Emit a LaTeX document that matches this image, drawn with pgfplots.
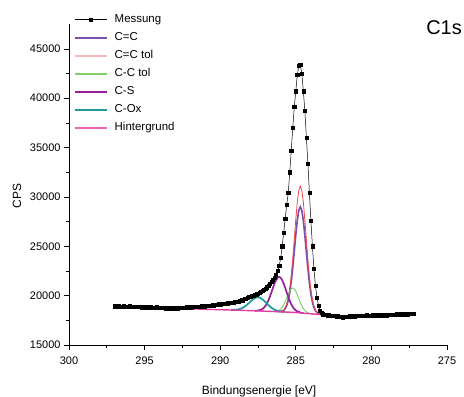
\documentclass[border=0pt]{standalone}
\usepackage{fontspec}
\setmainfont{Liberation Sans}
\usepackage{pgfplots}
\usepackage{pgfplotstable}
\pgfplotsset{compat=1.18}
\definecolor{ccc}{RGB}{125,80,178}
\definecolor{cctol}{RGB}{240,70,70}
\definecolor{cctolg}{RGB}{110,200,80}
\definecolor{ccs}{RGB}{150,30,150}
\definecolor{cox}{RGB}{30,155,155}
\definecolor{bgc}{RGB}{225,60,160}
\pgfplotstableread{
x y
297.0 18930
296.9 18900
296.8 18950
296.7 18920
296.6 18880
296.5 18910
296.4 18940
296.3 18890
296.2 18860
296.1 18900
296.0 18930
295.9 18870
295.8 18890
295.7 18850
295.6 18880
295.5 18900
295.4 18840
295.3 18860
295.2 18830
295.1 18870
295.0 18850
294.9 18810
294.8 18840
294.7 18800
294.6 18830
294.5 18790
294.4 18810
294.3 18780
294.2 18820
294.1 18760
294.0 18790
293.9 18750
293.8 18780
293.7 18740
293.6 18700
293.5 18660
293.4 18720
293.3 18750
293.2 18700
293.1 18740
293.0 18720
292.9 18760
292.8 18730
292.7 18780
292.6 18800
292.5 18760
292.4 18810
292.3 18790
292.2 18830
292.1 18800
292.0 18850
291.9 18830
291.8 18870
291.7 18850
291.6 18890
291.5 18870
291.4 18910
291.3 18880
291.2 18930
291.1 18960
291.0 18920
290.9 18970
290.8 18950
290.7 19000
290.6 18980
290.5 19040
290.4 19010
290.3 19080
290.2 19060
290.1 19120
290.0 19100
289.9 19160
289.8 19140
289.7 19200
289.6 19180
289.5 19230
289.4 19260
289.3 19240
289.2 19300
289.1 19280
289.0 19350
288.9 19420
288.8 19400
288.7 19480
288.6 19560
288.5 19540
288.4 19650
288.3 19700
288.2 19760
288.1 19850
288.0 19900
287.9 19950
287.8 20020
287.7 20080
287.6 20150
287.5 20220
287.4 20300
287.3 20400
287.2 20480
287.1 20580
287.0 20700
286.9 20850
286.8 21000
286.7 21180
286.6 21380
286.5 21600
286.4 21850
286.3 22150
286.2 22500
286.1 23000
286.0 23800
285.9 25000
285.8 26400
285.7 27800
285.6 29200
285.5 30400
285.4 32500
285.3 34700
285.2 37000
285.1 39100
285.0 40700
284.9 42400
284.8 43250
284.7 43380
284.6 42500
284.5 40700
284.4 38700
284.3 36000
284.2 33400
284.1 30400
284.0 27600
283.9 25000
283.8 22700
283.7 21000
283.6 19800
283.5 19000
283.4 18500
283.3 18250
283.2 18120
283.1 18080
283.0 18040
282.9 18010
282.8 18050
282.7 17990
282.6 17960
282.5 18000
282.4 17950
282.3 17900
282.2 17930
282.1 17870
282.0 17840
281.9 17820
281.8 17870
281.7 17850
281.6 17900
281.5 17880
281.4 17930
281.3 17900
281.2 17950
281.1 17920
281.0 17960
280.9 17930
280.8 17980
280.7 17950
280.6 17990
280.5 17940
280.4 17980
280.3 18010
280.2 17960
280.1 18000
280.0 17970
279.9 18020
279.8 17990
279.7 18030
279.6 17980
279.5 18040
279.4 18000
279.3 18050
279.2 18010
279.1 18060
279.0 18020
278.9 18070
278.8 18030
278.7 18080
278.6 18050
278.5 18100
278.4 18060
278.3 18110
278.2 18080
278.1 18120
278.0 18090
277.9 18130
277.8 18100
277.7 18150
277.6 18120
277.5 18160
277.4 18130
277.3 18170
277.2 18160
}\messung
\begin{document}
\begin{tikzpicture}
\useasboundingbox (-69bp,-52bp) rectangle (395bp,345bp);
\begin{axis}[
 at={(0,0)}, anchor=south west,
 scale only axis, width=378bp, height=320.8bp,
 xmin=275, xmax=300, x dir=reverse,
 ymin=15000, ymax=47500,
 scaled ticks=false,
 axis x line*=bottom, axis y line*=left,
 axis line style={-, line width=0.6bp},
 tick align=outside,
 tick style={line width=0.6bp, black},
 major tick length=5bp, minor tick length=3bp,
 xtick={275,280,...,300}, ytick={15000,20000,...,45000},
 minor x tick num=1, minor y tick num=1,
 /pgf/number format/assume math mode=true,
 /pgf/number format/set thousands separator={},
 ticklabel style={font=\fontsize{11}{13}\selectfont},
 xticklabel style={yshift=-3.5bp},
 xlabel={Bindungsenergie [eV]}, ylabel={CPS},
 label style={font=\fontsize{12}{14}\selectfont},
 xlabel style={at={(axis description cs:0.503,-0.145)}, anchor=center},
 ylabel style={at={(axis description cs:-0.1376,0.465)}, anchor=center},
 legend cell align=left,
 legend style={at={(axis description cs:0.012,1.031)}, anchor=north west, draw=none, fill=none, inner sep=0pt, row sep=7.5bp, column sep=7bp, font=\fontsize{11.5}{13}\selectfont, nodes={inner sep=0pt, text height=8bp, text depth=2.5bp}},
]
\addlegendimage{legend image code/.code={\draw[black, line width=0.5bp] (0bp,0bp) -- (32bp,0bp); \fill[black] (14.4bp,-1.6bp) rectangle (17.6bp,1.6bp);}}
\addlegendentry{Messung}
\addlegendimage{legend image code/.code={\draw[draw={rgb,255:red,125;green,80;blue,178}, line width=1.8bp] (0bp,0bp) -- (32bp,0bp);}}
\addlegendentry{C=C}
\addlegendimage{legend image code/.code={\draw[draw={rgb,255:red,248;green,185;blue,190}, line width=1.8bp] (0bp,0bp) -- (32bp,0bp);}}
\addlegendentry{C=C tol}
\addlegendimage{legend image code/.code={\draw[draw={rgb,255:red,130;green,205;blue,100}, line width=1.8bp] (0bp,0bp) -- (32bp,0bp);}}
\addlegendentry{C-C tol}
\addlegendimage{legend image code/.code={\draw[draw={rgb,255:red,150;green,30;blue,150}, line width=1.8bp] (0bp,0bp) -- (32bp,0bp);}}
\addlegendentry{C-S}
\addlegendimage{legend image code/.code={\draw[draw={rgb,255:red,30;green,155;blue,155}, line width=1.8bp] (0bp,0bp) -- (32bp,0bp);}}
\addlegendentry{C-Ox}
\addlegendimage{legend image code/.code={\draw[draw={rgb,255:red,235;green,100;blue,180}, line width=2bp] (0bp,0bp) -- (32bp,0bp);}}
\addlegendentry{Hintergrund}
\addplot[forget plot, black, line width=0.5bp, mark=square*, mark size=1.6bp, mark options={solid}] table {\messung};
\addplot[forget plot, color=ccc, line width=1.7bp] coordinates {(286.2,18382)(286.0,18398)(285.9,18435)(285.8,18521)(285.7,18693)(285.6,19007)(285.5,19532)(285.4,20330)(285.3,21452)(285.2,22874)(285.1,24512)(285.0,26191)(284.9,27651)(284.8,28649)(284.7,29001)(284.6,28623)(284.5,27599)(284.4,26113)(284.3,24413)(284.2,22755)(284.1,21312)(284.0,20170)(283.9,19352)(283.8,18808)(283.7,18474)(283.6,18283)(283.5,18177)(283.4,18121)(283.2,18069)};
\addplot[forget plot, color=cctol, line width=0.8bp] coordinates {(286.2,18383)(286.0,18405)(285.9,18451)(285.8,18554)(285.7,18762)(285.6,19138)(285.5,19767)(285.4,20723)(285.3,22065)(285.2,23766)(285.1,25725)(285.0,27735)(284.9,29482)(284.8,30677)(284.7,31101)(284.6,30651)(284.5,29430)(284.4,27657)(284.3,25626)(284.2,23647)(284.1,21925)(284.0,20563)(283.9,19587)(283.8,18939)(283.7,18543)(283.6,18316)(283.5,18193)(283.4,18128)(283.2,18070)};
\addplot[forget plot, color=cctolg, line width=0.8bp] coordinates {(286.6,18403)(286.4,18407)(286.3,18422)(286.2,18458)(286.1,18525)(286.0,18642)(285.9,18820)(285.8,19071)(285.7,19393)(285.6,19763)(285.5,20143)(285.4,20474)(285.3,20699)(285.2,20775)(285.1,20684)(285.0,20444)(284.9,20092)(284.8,19692)(284.7,19301)(284.6,18959)(284.5,18687)(284.4,18489)(284.3,18353)(284.2,18267)(284.1,18212)(284.0,18178)(283.8,18139)};
\addplot[forget plot, color=ccs, line width=1.7bp] coordinates {(287.7,18474)(287.5,18492)(287.3,18571)(287.2,18655)(287.1,18786)(287.0,18974)(286.9,19232)(286.8,19558)(286.7,19950)(286.6,20388)(286.5,20838)(286.4,21258)(286.3,21598)(286.2,21821)(286.1,21896)(286.0,21809)(285.9,21573)(285.8,21219)(285.7,20786)(285.6,20323)(285.5,19872)(285.4,19466)(285.3,19127)(285.2,18855)(285.1,18654)(285.0,18510)(284.9,18407)(284.7,18290)(284.5,18235)};
\addplot[forget plot, color=cox, line width=1.7bp] coordinates {(289.3,18562)(289.1,18566)(288.9,18589)(288.7,18651)(288.6,18706)(288.5,18778)(288.4,18869)(288.3,18980)(288.2,19109)(288.1,19250)(288.0,19395)(287.9,19533)(287.8,19657)(287.7,19751)(287.6,19812)(287.5,19828)(287.4,19800)(287.3,19728)(287.2,19622)(287.1,19487)(287.0,19337)(286.9,19180)(286.8,19028)(286.7,18887)(286.6,18764)(286.5,18662)(286.4,18578)(286.3,18512)(286.1,18426)(285.9,18379)(285.7,18350)};
\addplot[forget plot, color=bgc, line width=1.4bp, restrict x to domain=292.95:297.1] table {\messung};
\addplot[forget plot, color=bgc, line width=1.4bp, restrict x to domain=276:283.05] table {\messung};
\addplot[forget plot, color=bgc, line width=1.4bp] coordinates {(293.0,18720)(292.5,18695)(292.0,18670)(291.0,18620)(290.0,18575)(289.0,18530)(288.0,18480)(287.0,18420)(286.0,18365)(285.5,18328)(285.0,18290)(284.5,18225)(284.0,18160)(283.5,18100)(283.0,18040)};
\end{axis}
\node[font=\fontsize{20}{24}\selectfont] at (375bp,317.5bp) {C1s};
\end{tikzpicture}
\end{document}
